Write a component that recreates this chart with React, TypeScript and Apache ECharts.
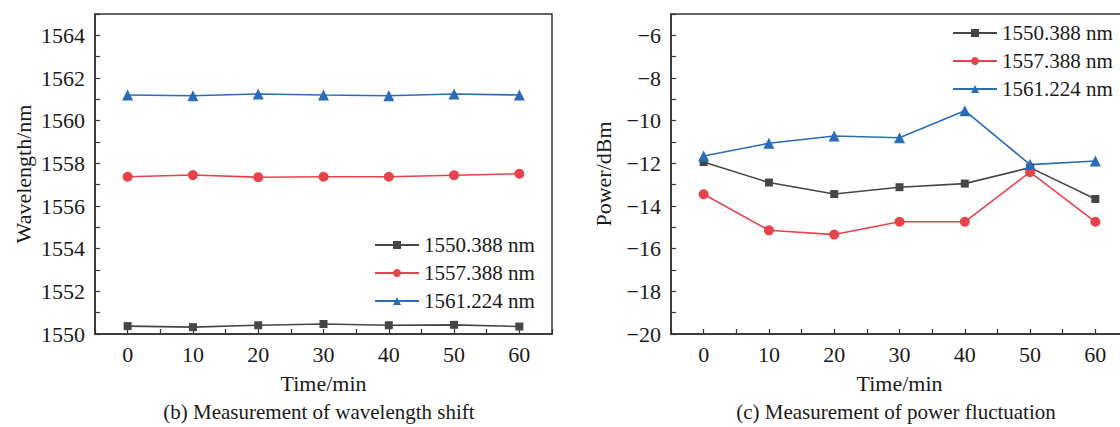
import React, { useEffect, useRef } from "react";
import * as echarts from "echarts";

const times = [0, 10, 20, 30, 40, 50, 60];
const seriesNames = ["1550.388 nm", "1557.388 nm", "1561.224 nm"];
const wlBlack = [1550.37, 1550.32, 1550.41, 1550.47, 1550.41, 1550.43, 1550.35];
const wlRed = [1557.37, 1557.45, 1557.35, 1557.37, 1557.37, 1557.44, 1557.51];
const wlBlue = [1561.2, 1561.17, 1561.25, 1561.2, 1561.17, 1561.25, 1561.2];
const pwBlack = [-11.94, -12.9, -13.44, -13.12, -12.95, -12.2, -13.67];
const pwRed = [-13.45, -15.14, -15.34, -14.74, -14.74, -12.41, -14.74];
const pwBlue = [-11.66, -11.06, -10.72, -10.8, -9.53, -12.06, -11.89];
const captions = ["(b) Measurement of wavelength shift", "(c) Measurement of power fluctuation"];

const colors = ["#464646", "#e8434b", "#2b6cb8"];
const symbols = ["rect", "circle", "triangle"];
const symbolSizes = [8, 10, 11];
const FONT = "'Liberation Serif', 'Times New Roman', serif";
const TXT = "#1a1a1a";
const AX = "#333";
const FS = 22;
const LFS = 21;

export default function App() {
  const ref = useRef<HTMLDivElement>(null);
  useEffect(() => {
    const chart = echarts.init(ref.current!, null, { renderer: "svg" });
    const xAxisBase = (gridIndex: number) => ({
      type: "value",
      gridIndex,
      min: -5,
      max: 65,
      interval: 5,
      name: "Time/min",
      nameLocation: "middle",
      nameGap: 38,
      nameTextStyle: { fontFamily: FONT, fontSize: FS, color: TXT },
      axisLine: { show: true, onZero: false, lineStyle: { color: AX, width: 1.5 } },
      axisTick: { show: true, inside: true, length: 5, lineStyle: { color: AX, width: 1.2 } },
      splitLine: { show: false },
      axisLabel: {
        fontFamily: FONT,
        fontSize: FS,
        color: TXT,
        margin: 9,
        formatter: (v: number) => (v >= 0 && v <= 60 && v % 10 === 0 ? String(v) : ""),
      },
    });
    const yAxisBase = (gridIndex: number, min: number, max: number, name: string, gap: number) => ({
      type: "value",
      gridIndex,
      min,
      max,
      interval: 1,
      name,
      nameLocation: "middle",
      nameGap: gap,
      nameTextStyle: { fontFamily: FONT, fontSize: FS, color: TXT },
      axisLine: { show: true, onZero: false, lineStyle: { color: AX, width: 1.5 } },
      axisTick: { show: true, inside: true, length: 5, lineStyle: { color: AX, width: 1.2 } },
      splitLine: { show: false },
      axisLabel: {
        fontFamily: FONT,
        fontSize: FS,
        color: TXT,
        margin: 10,
        formatter: (v: number) =>
          Math.abs(v) % 2 === 0 && v !== max ? String(v).replace("-", "\u2212") : "",
      },
    });
    const mk = (idx: number, data: number[], axisIndex: number) => ({
      type: "line",
      name: seriesNames[idx],
      xAxisIndex: axisIndex,
      yAxisIndex: axisIndex,
      data: times.map((t, i) => [t, data[i]]),
      symbol: symbols[idx],
      symbolSize: symbolSizes[idx],
      showAllSymbol: true,
      lineStyle: { color: colors[idx], width: 1.6 },
      itemStyle: { color: colors[idx] },
    });
    const legendBase = (left: number, top: number) => ({
      orient: "vertical",
      left,
      top,
      padding: 0,
      itemWidth: 44,
      itemHeight: 10,
      itemGap: 6,
      textStyle: { fontFamily: FONT, fontSize: LFS, color: TXT, lineHeight: 22 },
      data: seriesNames,
    });
    chart.setOption({
      animation: false,
      grid: [
        { left: 95, top: 14, width: 457, height: 320, show: true, borderColor: AX, borderWidth: 1.5, containLabel: false },
        { left: 671, top: 14, width: 457, height: 320, show: true, borderColor: AX, borderWidth: 1.5, containLabel: false },
      ],
      xAxis: [xAxisBase(0), xAxisBase(1)],
      yAxis: [
        yAxisBase(0, 1550, 1565, "Wavelength/nm", 61),
        yAxisBase(1, -20, -5, "Power/dBm", 57),
      ],
      legend: [legendBase(374, 234), legendBase(952, 22)],
      series: [
        mk(0, wlBlack, 0),
        mk(1, wlRed, 0),
        mk(2, wlBlue, 0),
        mk(0, pwBlack, 1),
        mk(1, pwRed, 1),
        mk(2, pwBlue, 1),
      ],
      graphic: [
        {
          type: "text",
          x: 319,
          y: 412,
          style: { text: captions[0], font: `21px ${FONT}`, fill: TXT, align: "center", verticalAlign: "middle" },
        },
        {
          type: "text",
          x: 896,
          y: 412,
          style: { text: captions[1], font: `21px ${FONT}`, fill: TXT, align: "center", verticalAlign: "middle" },
        },
      ],
    });
    return () => chart.dispose();
  }, []);
  return (
    <div style={{ position: "absolute", left: 0, top: 0, width: 1120, height: 427, overflow: "hidden", background: "#fff" }}>
      <div ref={ref} style={{ width: 1140, height: 427 }} />
    </div>
  );
}
